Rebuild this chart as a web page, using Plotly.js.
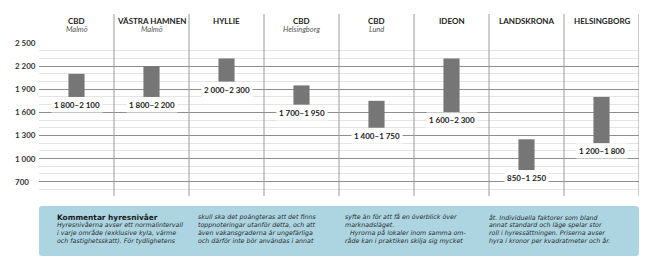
<!DOCTYPE html>
<html>
<head>
<meta charset="utf-8">
<script src="https://cdn.plot.ly/plotly-3.0.1.min.js"></script>
<style>html,body{margin:0;padding:0;background:#fff;}#chart{width:656px;height:261px;}</style>
</head>
<body>
<div id="chart"></div>
<script>
const categories = ['CBD', 'VÄSTRA HAMNEN', 'HYLLIE', 'CBD', 'CBD', 'IDEON', 'LANDSKRONA', 'HELSINGBORG'];
const subtitles = ['Malmö', 'Malmö', '', 'Helsingborg', 'Lund', '', '', ''];
const lowValues = [1800, 1800, 2000, 1700, 1400, 1600, 850, 1200];
const highValues = [2100, 2200, 2300, 1950, 1750, 2300, 1250, 1800];
const yTickValues = [700, 1000, 1300, 1600, 1900, 2200, 2500];

const noteTitle = 'Kommentar hyresnivåer';
const noteCol1 = ['Hyresnivåerna avser ett normalintervall', 'i varje område (exklusive kyla, värme', 'och fastighetsskatt). För tydlighetens'];
const noteCol2 = ['skull ska det poängteras att det finns', 'toppnoteringar utanför detta, och att', 'även vakansgraderna är ungefärliga', 'och därför inte bör användas i annat'];
const noteCol3 = ['syfte än för att få en överblick över', 'marknadsläget.', 'Hyrorna på lokaler inom samma om-', 'råde kan i praktiken skilja sig mycket'];
const noteCol4 = ['åt. Individuella faktorer som bland', 'annat standard och läge spelar stor', 'roll i hyressättningen. Priserna avser', 'hyra i kronor per kvadratmeter och år.'];

function fmt(n) {
  if (n >= 1000) return Math.floor(n / 1000) + '\u00a0' + String(n % 1000).padStart(3, '0');
  return String(n);
}

const W = 656, H = 261;
const L = 39, R = 17, T = 43, B = 64;
const PW = W - L - R, PH = H - T - B;
const px = x => (x - L) / PW;          // pixel x -> paper x
const py = y => (H - B - y) / PH;      // pixel y -> paper y

const FONT = 'Lato, "Open Sans", sans-serif';
const NOTE_FONT = '"DejaVu Sans", sans-serif';
const idx = categories.map((_, i) => i);

const trace = {
  type: 'bar',
  x: idx,
  base: lowValues,
  y: highValues.map((h, i) => h - lowValues[i]),
  width: 0.215,
  marker: {color: '#767676', line: {width: 0}},
  hoverinfo: 'skip'
};

const annotations = [];
// y tick labels (left aligned)
yTickValues.forEach(v => {
  annotations.push({xref: 'paper', yref: 'y', x: px(13), y: v, xanchor: 'left', yanchor: 'middle',
    text: fmt(v), showarrow: false, font: {family: FONT, size: 8, color: '#333', weight: 700}});
});
// header labels
categories.forEach((c, i) => {
  annotations.push({xref: 'x', yref: 'paper', x: i, y: py(20.5), xanchor: 'center', yanchor: 'middle',
    text: c, showarrow: false, font: {family: FONT, size: 8, color: '#222', weight: 700}});
  if (subtitles[i]) annotations.push({xref: 'x', yref: 'paper', x: i, y: py(29.5), xanchor: 'center', yanchor: 'middle',
    text: '<i>' + subtitles[i] + '</i>', showarrow: false, font: {family: FONT, size: 7.5, color: '#555'}});
});
// range labels
idx.forEach(i => {
  annotations.push({xref: 'x', yref: 'y', x: i, y: lowValues[i], xanchor: 'center', yanchor: 'top',
    text: fmt(lowValues[i]) + '–' + fmt(highValues[i]), showarrow: false, bgcolor: '#ffffff', borderpad: 2, yshift: 0,
    font: {family: FONT, size: 8, color: '#1a1a1a', weight: 700}});
});
// note box text
const lineY = [217, 225, 233, 241];
const noteFont = {family: NOTE_FONT, size: 6.3, color: '#2a2a2a', style: 'italic'};
annotations.push({xref: 'paper', yref: 'paper', x: px(55), y: py(lineY[0]), xanchor: 'left', yanchor: 'middle',
  text: noteTitle, showarrow: false, font: {family: NOTE_FONT, size: 7.4, color: '#1a1a1a', weight: 700}});
const cols = [[55, noteCol1, 1], [196, noteCol2, 0], [343, noteCol3, 0], [487, noteCol4, 0]];
cols.forEach(([x, lines, off]) => {
  lines.forEach((t, k) => {
    const indent = (lines === noteCol3 && k === 2) ? 5 : 0;
    annotations.push({xref: 'paper', yref: 'paper', x: px(x + indent), y: py(lineY[k + off]), xanchor: 'left', yanchor: 'middle',
      text: t, showarrow: false, font: noteFont});
  });
});

const shapes = [];
// rounded box
(function () {
  const x0 = px(39), x1 = px(639), y0 = py(256), y1 = py(206);
  const rx = 3 / PW, ry = 3 / PH;
  const path = `M ${x0 + rx} ${y1} L ${x1 - rx} ${y1} Q ${x1} ${y1} ${x1} ${y1 - ry} L ${x1} ${y0 + ry} Q ${x1} ${y0} ${x1 - rx} ${y0} L ${x0 + rx} ${y0} Q ${x0} ${y0} ${x0} ${y0 + ry} L ${x0} ${y1 - ry} Q ${x0} ${y1} ${x0 + rx} ${y1} Z`;
  shapes.push({type: 'path', xref: 'paper', yref: 'paper', path: path, fillcolor: '#acd5e1', line: {width: 0}, layer: 'below'});
})();
// column separators
idx.forEach(i => {
  shapes.push({type: 'line', xref: 'x', yref: 'paper', x0: i + 0.5, x1: i + 0.5, y0: py(196), y1: py(14),
    line: {color: '#9a9a9a', width: 1}});
});

const layout = {
  width: W, height: H,
  margin: {l: L, r: R, t: T, b: B, pad: 0},
  paper_bgcolor: '#ffffff', plot_bgcolor: '#ffffff',
  showlegend: false,
  xaxis: {range: [-0.5, 7.5], showticklabels: false, showgrid: false, zeroline: false, ticks: '', fixedrange: true},
  yaxis: {range: [500, 2501], tick0: 700, dtick: 300, showgrid: true, gridcolor: '#8e8e8e', gridwidth: 1,
    showticklabels: false, zeroline: false, ticks: '', fixedrange: true,
    minor: {tick0: 500, dtick: 100, showgrid: true, gridcolor: '#e4e4e4', gridwidth: 1}},
  annotations: annotations,
  shapes: shapes
};

Plotly.newPlot('chart', [trace], layout, {staticPlot: true, displayModeBar: false});
</script>
</body>
</html>
